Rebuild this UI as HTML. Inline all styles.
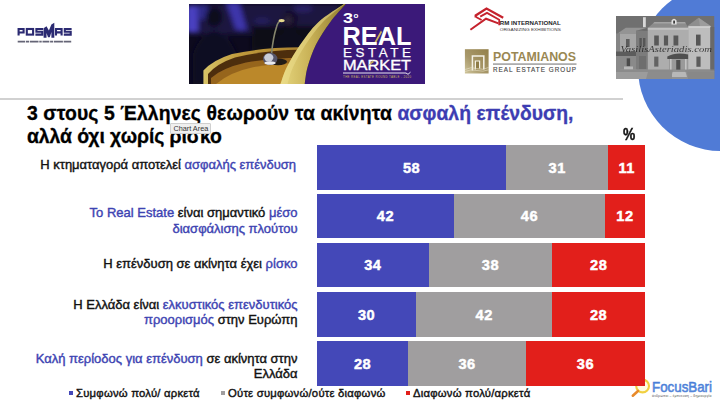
<!DOCTYPE html>
<html><head><meta charset="utf-8">
<style>
html,body{margin:0;padding:0;}
body{width:720px;height:402px;position:relative;overflow:hidden;background:#fff;font-family:"Liberation Sans",sans-serif;}
.abs{position:absolute;}
#circle{left:637.6px;top:-15.8px;width:166.4px;height:166.4px;border-radius:50%;background:#507bd6;}
#hr{left:0;top:97.9px;width:622.8px;height:2px;background:#d1d1d1;}
.title{left:27px;white-space:nowrap;font-weight:bold;font-size:19.4px;color:#000;line-height:22px;-webkit-text-stroke:0.3px #000;}
.title{letter-spacing:0.1px;}.title .b{color:#3d3db2;-webkit-text-stroke:0.3px #3d3db2;letter-spacing:0;}
.bar{left:317px;width:328px;height:44.6px;display:flex;}
.bar div{height:100%;color:#fff;font-weight:bold;font-size:14.6px;letter-spacing:0.5px;-webkit-text-stroke:0.45px #fff;padding-top:0.8px;box-sizing:border-box;display:flex;align-items:center;justify-content:center;}
.c1{background:#4448b8;}.c2{background:#a09e9f;}.c3{background:#e21f1b;}
.lab{right:422.5px;text-align:right;white-space:nowrap;font-size:13px;line-height:15.6px;color:#111;-webkit-text-stroke:0.4px #111;}
.lab .b{color:#3d43b2;-webkit-text-stroke:0.4px #3d43b2;}
.leg{top:386.2px;font-size:11.3px;letter-spacing:0.22px;line-height:14px;white-space:nowrap;color:#111;-webkit-text-stroke:0.4px #111;}
.sq{position:absolute;width:4px;height:4px;top:391.2px;margin-left:0.5px;}
#pct{left:621.9px;top:124.8px;font-size:16px;font-weight:bold;color:#111;line-height:20px;transform:scaleX(0.86);transform-origin:50% 50%;-webkit-text-stroke:0.45px #111;}
#tip{left:170.2px;top:122.8px;width:41.3px;height:11.2px;background:#efefef;border:0.5px solid #cfcfcf;box-sizing:border-box;font-size:7.3px;line-height:10.6px;text-align:center;color:#333;border-radius:1px;white-space:nowrap;}
</style></head><body>
<div class="abs" id="circle"></div>
<div class="abs" id="hr"></div>

<!-- POSMAS logo -->
<svg class="abs" style="left:0;top:0" width="100" height="60" viewBox="0 0 100 60">
<g fill="none" stroke="#2b2a72" stroke-width="2.1" stroke-linejoin="miter" stroke-linecap="butt">
<path d="M18.6 35.6V29H23.6V32.5H18.6"/>
<rect x="26.8" y="29" width="6.3" height="5.6"/>
<path d="M43.2 29H36.4V31.8H42.3V34.6H35.4"/>
<path d="M56 35.6V29H61.6V35.6M56 32.4H61.6"/>
<path d="M71.6 29H64.8V31.8H70.7V34.6H63.8"/>
</g>
<path fill="#2b2a72" d="M43.6 37.7V28.2L46.5 26.2L48.9 30.6L51.4 24.6L54.3 22.7V37.7H51.4V32L49.8 37.2H48L46.5 33V37.7Z"/>
<path d="M17.7 41.6H71.8" stroke="#3f3f55" stroke-width="1.7" stroke-dasharray="7.5 0.8 3.2 0.8 8.5 0.8 2.4 0.8 6.8 0.8 3 0.8 9 0.8" opacity="0.8"/>
</svg>

<!-- Real Estate Market banner -->
<svg class="abs" style="left:189px;top:4px" width="236" height="80" viewBox="189 4 236 80">
<defs>
<linearGradient id="bg" x1="0" y1="0" x2="1" y2="1"><stop offset="0" stop-color="#1d1748"/><stop offset="0.5" stop-color="#0f0b26"/><stop offset="1" stop-color="#120c1e"/></linearGradient>
<radialGradient id="glow" cx="0.5" cy="0.5" r="0.5"><stop offset="0" stop-color="#4a3fb0" stop-opacity="0.9"/><stop offset="1" stop-color="#2a2370" stop-opacity="0"/></radialGradient>
<linearGradient id="rim" x1="0" y1="0" x2="1" y2="0"><stop offset="0" stop-color="#d8c468"/><stop offset="0.35" stop-color="#c09a3c"/><stop offset="1" stop-color="#a88030"/></linearGradient>
<linearGradient id="inner" x1="0" y1="0" x2="0" y2="1"><stop offset="0" stop-color="#6b3f14"/><stop offset="0.45" stop-color="#a8732a"/><stop offset="1" stop-color="#c79a3a"/></linearGradient>
<linearGradient id="sw" x1="0" y1="0" x2="1" y2="0"><stop offset="0" stop-color="#e6d67e"/><stop offset="0.45" stop-color="#c9b257"/><stop offset="1" stop-color="#8f7a2e"/></linearGradient>
<filter id="bl" x="-20%" y="-20%" width="140%" height="140%"><feGaussianBlur stdDeviation="2.8"/></filter>
<filter id="bl1" x="-20%" y="-20%" width="140%" height="140%"><feGaussianBlur stdDeviation="0.6"/></filter>
<clipPath id="bc"><rect x="189" y="4" width="236" height="80"/></clipPath>
</defs>
<g clip-path="url(#bc)">
<rect x="189" y="4" width="236" height="80" fill="#0d0a1e"/>
<g filter="url(#bl)">
<rect x="189" y="4" width="150" height="30" fill="#1a1640"/>
<rect x="186" y="6" width="12" height="26" fill="#4840c0"/>
<ellipse cx="203" cy="12" rx="6" ry="8" fill="#2e2a86"/>
<path d="M226 2H239L247 30H236Z" fill="#3e36aa"/>
<ellipse cx="224" cy="44" rx="4.5" ry="8" fill="#2c2890"/>
<ellipse cx="206" cy="45" rx="5" ry="7" fill="#1e1a58"/>
<ellipse cx="262" cy="21" rx="8" ry="3" fill="#262060"/>
<ellipse cx="303" cy="8" rx="10" ry="4" fill="#2a2366"/>
<rect x="252" y="26" width="80" height="24" fill="#0b0916"/>
<ellipse cx="214" cy="17" rx="8.5" ry="10" fill="#0d0a1e"/>
<path d="M193 84V54Q200 34 214 31Q230 34 238 58V84Z" fill="#0f0c22"/>
<ellipse cx="290" cy="19" rx="8" ry="9" fill="#15102a"/>
<path d="M268 60Q274 34 290 30Q306 34 312 60Z" fill="#0e0b1c"/>
<ellipse cx="288" cy="20" rx="3" ry="4" fill="#34293f"/>
</g>
<!-- bowl -->
<g filter="url(#bl1)">
<path d="M203.4 84V70.5Q213 60 232 54Q262 47.5 300 47.3L304 84Z" fill="url(#rim)"/>
<path d="M208 84V74Q217 63.5 235 57.5Q264 50.2 300 49.8L304 84Z" fill="#4e2d0e"/>
<path d="M211 84V78Q222 68 246 62.5Q272 58 302 57.5L304 84Z" fill="#96651f"/>
<path d="M216 84Q230 72 254 67Q280 63 302 63L304 84Z" fill="#bb882a"/>
<!-- mic -->
<path d="M271.5 54Q273 38 276.5 27Q278 21.5 281 20.6" fill="none" stroke="#85856c" stroke-width="1.6"/>
<ellipse cx="281.6" cy="20.6" rx="3" ry="1.7" fill="#e6d88c"/>
<ellipse cx="278" cy="61.8" rx="9" ry="3.4" fill="#241c16"/>
<ellipse cx="270.2" cy="59" rx="7.2" ry="6.2" fill="#55556a"/>
<ellipse cx="268.8" cy="57.6" rx="4.6" ry="4" fill="#c9ccd8"/>
<ellipse cx="270" cy="63" rx="5.6" ry="1.8" fill="#e8eaf0"/>
</g>
<!-- purple panel -->
<path d="M345.7 4.0C343.1 7.1 335.0 15.6 330.0 22.4C325.0 29.2 319.6 37.4 315.9 44.8C312.2 52.2 309.5 60.5 307.6 67.0C305.7 73.5 305.2 81.2 304.7 84.0H425V4Z" fill="#3b1979"/>
<!-- swoosh -->
<path d="M280.5 84.0C281.6 81.2 283.5 73.7 286.8 67.2C290.1 60.7 295.0 52.3 300.2 44.8C305.4 37.3 310.8 29.2 318.1 22.4C325.4 15.6 339.6 7.1 343.9 4.0L345.7 4.0C343.1 7.1 335.0 15.6 330.0 22.4C325.0 29.2 319.6 37.4 315.9 44.8C312.2 52.2 309.5 60.5 307.6 67.0C305.7 73.5 305.2 81.2 304.7 84.0Z" fill="url(#sw)"/>
<path d="M280.5 84.0C281.6 81.2 283.5 73.7 286.8 67.2C290.1 60.7 295.0 52.3 300.2 44.8C305.4 37.3 310.8 29.2 318.1 22.4C325.4 15.6 339.6 7.1 343.9 4.0L344.6 4.0C340.9 7.1 329.0 15.6 322.5 22.4C316.0 29.2 310.4 37.3 305.5 44.8C300.6 52.3 296.0 60.7 293.0 67.2C290.0 73.7 288.4 81.2 287.5 84.0Z" fill="#efe392" opacity="0.45"/>
<!-- text -->
<g fill="#fff" font-family="Liberation Sans, sans-serif">
<text x="343" y="22.6" font-size="14.5" font-weight="bold" textLength="10" lengthAdjust="spacingAndGlyphs">3</text>
<text x="353.5" y="17.5" font-size="8" font-weight="bold">o</text>
<text x="342.5" y="44.7" font-size="25.5" font-weight="bold" textLength="69" lengthAdjust="spacingAndGlyphs">REAL</text>
<text x="343" y="57.2" font-size="13.4" textLength="68" lengthAdjust="spacing" stroke="#fff" stroke-width="0.25">ESTATE</text>
<text x="343" y="69.5" font-size="14.2" textLength="68" lengthAdjust="spacingAndGlyphs" stroke="#fff" stroke-width="0.35">MARKET</text>
</g>
<path d="M343 73H406L408 74.3L410.5 72.2" fill="none" stroke="#fff" stroke-width="0.9"/>
<path d="M374.5 42L381 30.5L382 32.2L376.6 42Z" fill="#c9b257"/>
<path d="M368 66L372.5 60.5L374 62Z" fill="#c9b257"/>
<text x="343" y="78.4" font-size="2.9" fill="#cdb766" font-family="Liberation Sans, sans-serif" textLength="68" lengthAdjust="spacing">THE REAL ESTATE ROUND TABLE - 2020</text>
</g>
</svg>

<!-- RM International -->
<svg class="abs" style="left:465px;top:3px" width="105" height="36" viewBox="465 3 105 36">
<g fill="none" stroke="#c5222d" stroke-linejoin="miter">
<path d="M475.7 17.4V15.5L486.5 8.5L503.2 17.8" stroke-width="2.3"/>
<path d="M476 17L481.6 20M480.2 16.6L487 12.9L499.2 19.8V25.2" stroke-width="1.8"/>
<path d="M470.4 29.8L486 18.7L498.4 23.4" stroke-width="2"/>
</g>
<text x="499.8" y="25.3" font-size="6.1" font-weight="bold" fill="#26262a" font-family="Liberation Sans, sans-serif" textLength="61" lengthAdjust="spacingAndGlyphs">RM INTERNATIONAL</text>
<text x="499.8" y="31" font-size="4.2" fill="#3a3336" font-family="Liberation Sans, sans-serif" textLength="61" lengthAdjust="spacingAndGlyphs">ORGANIZING EXHIBITIONS</text>
</svg>

<!-- Potamianos -->
<svg class="abs" style="left:460px;top:44px" width="125" height="36" viewBox="460 44 125 36">
<defs><linearGradient id="pg" x1="1" y1="0" x2="0" y2="1"><stop offset="0" stop-color="#93804a"/><stop offset="0.6" stop-color="#a8986a"/><stop offset="1" stop-color="#cfc59c"/></linearGradient></defs>
<rect x="464.9" y="49.2" width="23.7" height="24.3" fill="url(#pg)"/>
<path d="M472.4 70.5V56H483.8V69.5" fill="none" stroke="#f4f1e6" stroke-width="1.5"/>
<path d="M475.4 69.5V61H479.6V68.5" fill="#8f7c48" stroke="#f4f1e6" stroke-width="1.2"/>
<path d="M465 69.5Q471 66.5 477 68.5T488.6 67.5M465 71.5Q471 68.8 477 70.5T488.6 69.8" fill="none" stroke="#e9e3c8" stroke-width="0.6"/>
<text x="493" y="60.8" font-size="12.6" font-weight="bold" fill="#9a8853" font-family="Liberation Sans, sans-serif" textLength="83" lengthAdjust="spacingAndGlyphs">POTAMIANOS</text>
<rect x="493" y="63.6" width="83.5" height="0.9" fill="#5c5c5c"/>
<text x="493" y="71.5" font-size="6.3" fill="#4a4a4a" font-family="Liberation Sans, sans-serif" textLength="83" lengthAdjust="spacing" stroke="#4a4a4a" stroke-width="0.15">REAL ESTATE GROUP</text>
</svg>

<!-- house photo -->
<svg class="abs" style="left:616px;top:15.5px" width="98.5" height="63" viewBox="0 0 98.5 63">
<defs><filter id="hb" x="-5%" y="-5%" width="110%" height="110%"><feGaussianBlur stdDeviation="0.45"/></filter>
<clipPath id="hc"><rect width="98.5" height="63"/></clipPath></defs>
<g clip-path="url(#hc)">
<rect width="98.5" height="63" fill="#707070"/>
<g filter="url(#hb)">
<rect y="53" width="98.5" height="10" fill="#929292"/>
<!-- left wing -->
<path d="M1.5 17.5L9.8 11.8H31.8L21 17.5Z" fill="#949494"/>
<rect x="0" y="17.5" width="5" height="36" fill="#858585"/>
<rect x="4" y="17.5" width="17" height="36" fill="#a6a6a6"/>
<rect x="20" y="14.5" width="12" height="39" fill="#7c7c7c"/>
<path d="M20 14.8L31.8 11.8V14.8Z" fill="#6a6a6a"/>
<rect x="23.4" y="22" width="2.4" height="8.5" fill="#565656"/>
<rect x="27" y="22" width="2.4" height="8.5" fill="#565656"/>
<rect x="10" y="23" width="3.6" height="8" fill="#5c5c5c"/>
<path d="M0 35.5H20V40H0Z" fill="#5c5c5c"/>
<rect x="0" y="40" width="20" height="13.5" fill="#8a8a8a"/>
<rect x="10.7" y="42.3" width="3.4" height="8" fill="#4c4c4c"/>
<rect x="8" y="50.5" width="9" height="3" fill="#b8b8b8"/>
<rect x="23" y="40" width="7" height="13" fill="#6e6e6e"/>
<!-- chimney -->
<rect x="27" y="1.2" width="2.8" height="10" fill="#d8d8d8"/>
<!-- main block -->
<path d="M31.8 12L38.6 6H69L72.4 12Z" fill="#8c8c8c"/>
<path d="M38.6 6H69L69.8 7.5H37Z" fill="#a4a4a4"/>
<rect x="31.8" y="11.8" width="41" height="42" fill="#adadad"/>
<rect x="31.8" y="11.8" width="41" height="2" fill="#c2c2c2"/>
<path d="M55.5 8.5V4.5Q58 1.2 60.6 4.5V8.5Z" fill="#e2e2e2"/><rect x="57.2" y="4.6" width="1.8" height="3" fill="#3e3e3e"/>
<rect x="38.2" y="19.5" width="4.6" height="10" fill="#585858"/>
<rect x="47.9" y="19.5" width="4.2" height="10" fill="#585858"/>
<rect x="57.5" y="19.5" width="4.8" height="10" fill="#585858"/>
<rect x="38.2" y="40.6" width="4.2" height="10" fill="#636363"/>
<!-- porch -->
<path d="M51.3 43V40.5Q60 35.5 72.4 38.5V43Z" fill="#505050"/>
<rect x="53" y="43" width="19" height="11.5" fill="#9a9a9a"/>
<rect x="60.2" y="44" width="4.2" height="10.2" fill="#505050"/>
<rect x="54" y="43" width="1.6" height="11" fill="#c4c4c4"/><rect x="69" y="43" width="1.6" height="11" fill="#c4c4c4"/>
<path d="M57.2 54.2H69L71 61H55Z" fill="#b8b8b8"/>
<!-- right tower -->
<path d="M70.7 10.4L82.6 1.7L95.3 10.4Z" fill="#8e8e8e"/>
<path d="M82.6 1.7L95.3 10.4H84Z" fill="#9c9c9c"/>
<rect x="72.4" y="10.2" width="22" height="43.2" fill="#bdbdbd"/>
<rect x="72.4" y="10.2" width="22" height="1.8" fill="#cecece"/>
<rect x="80" y="18.6" width="4.6" height="11" fill="#575757"/>
<rect x="80.4" y="40.6" width="4.2" height="10.2" fill="#5c5c5c"/>
<rect x="94.4" y="11" width="4.1" height="44" fill="#696969"/>
<path d="M0 53.4H98.5V56H0Z" fill="#8a8a8a" opacity="0.8"/>
<path d="M0 56H32V63H0Z" fill="#9c9c9c"/>
<path d="M32 56H56V63H30Z" fill="#8c8c8c"/>
<path d="M71 56H98.5V63H72Z" fill="#888"/>
</g>
<text x="4.5" y="35.8" font-family="Liberation Serif, serif" font-style="italic" font-size="9" fill="#161616" textLength="91.5" lengthAdjust="spacingAndGlyphs" opacity="0.78">VasilisAsteriadis.com</text>
</g>
</svg>

<!-- FocusBari -->
<svg class="abs" style="left:625px;top:376px" width="95" height="26" viewBox="625 376 95 26">
<defs><linearGradient id="fb" x1="0" y1="0" x2="0" y2="1"><stop offset="0" stop-color="#3f76d6"/><stop offset="1" stop-color="#6a96e2"/></linearGradient></defs>
<circle cx="642.6" cy="386" r="6.4" fill="#fffbe2" stroke="#f1d040" stroke-width="2.1"/>
<path d="M638 391L632.8 395.7" stroke="#e88a2a" stroke-width="2.6" stroke-linecap="round"/>
<text x="652" y="392.3" font-size="14.2" fill="url(#fb)" stroke="#4a7fd8" stroke-width="0.55" font-family="Liberation Sans, sans-serif" textLength="60" lengthAdjust="spacingAndGlyphs">FocusBari</text>
<text x="652" y="397.4" font-size="3.4" fill="#555" font-family="Liberation Sans, sans-serif" textLength="59.5" lengthAdjust="spacing">άνθρωποι – έμπνευση – δημιουργία</text>
</svg>


<div class="abs title" style="top:101.7px" id="t1">3 στους 5 Έλληνες θεωρούν τα ακίνητα <span class="b">ασφαλή επένδυση,</span></div>
<div class="abs title" style="top:124.5px;letter-spacing:-0.07px" id="t2">αλλά όχι χωρίς ρίσκο</div>
<div class="abs" id="tip">Chart Area</div>
<div class="abs" id="pct">%</div>

<div class="abs bar" style="top:145px"><div class="c1" style="width:189px">58</div><div class="c2" style="width:102.3px">31</div><div class="c3" style="width:36.7px">11</div></div>
<div class="abs bar" style="top:193.8px"><div class="c1" style="width:136.8px">42</div><div class="c2" style="width:151.2px">46</div><div class="c3" style="width:40px">12</div></div>
<div class="abs bar" style="top:242.8px"><div class="c1" style="width:111.5px">34</div><div class="c2" style="width:123.8px">38</div><div class="c3" style="width:92.7px">28</div></div>
<div class="abs bar" style="top:292px"><div class="c1" style="width:99.2px">30</div><div class="c2" style="width:136.1px">42</div><div class="c3" style="width:92.7px">28</div></div>
<div class="abs bar" style="top:341px"><div class="c1" style="width:91.1px">28</div><div class="c2" style="width:117.9px">36</div><div class="c3" style="width:119px">36</div></div>

<div class="abs lab" style="top:157.2px;right:424px;letter-spacing:-0.02px" id="l1">Η κτηματαγορά αποτελεί <span class="b">ασφαλής επένδυση</span></div>
<div class="abs lab" style="top:205.2px" id="l2"><span class="b">Το Real Estate</span> είναι σημαντικό <span class="b">μέσο<br>διασφάλισης πλούτου</span></div>
<div class="abs lab" style="top:256.2px" id="l3">Η επένδυση σε ακίνητα έχει <span class="b">ρίσκο</span></div>
<div class="abs lab" style="top:296.8px" id="l4">Η Ελλάδα είναι <span class="b">ελκυστικός επενδυτικός<br>προορισμός</span> στην Ευρώπη</div>
<div class="abs lab" style="top:350.5px" id="l5"><span class="b">Καλή περίοδος για επένδυση</span> σε ακίνητα στην<br>Ελλάδα</div>

<div class="sq c1" style="left:68px"></div><div class="abs leg" style="left:76px" id="g1">Συμφωνώ πολύ/ αρκετά</div>
<div class="sq c2" style="left:220px"></div><div class="abs leg" style="left:228px" id="g2">Ούτε συμφωνώ/ούτε διαφωνώ</div>
<div class="sq c3" style="left:405px"></div><div class="abs leg" style="left:413px" id="g3">Διαφωνώ πολύ/αρκετά</div>
</body></html>
